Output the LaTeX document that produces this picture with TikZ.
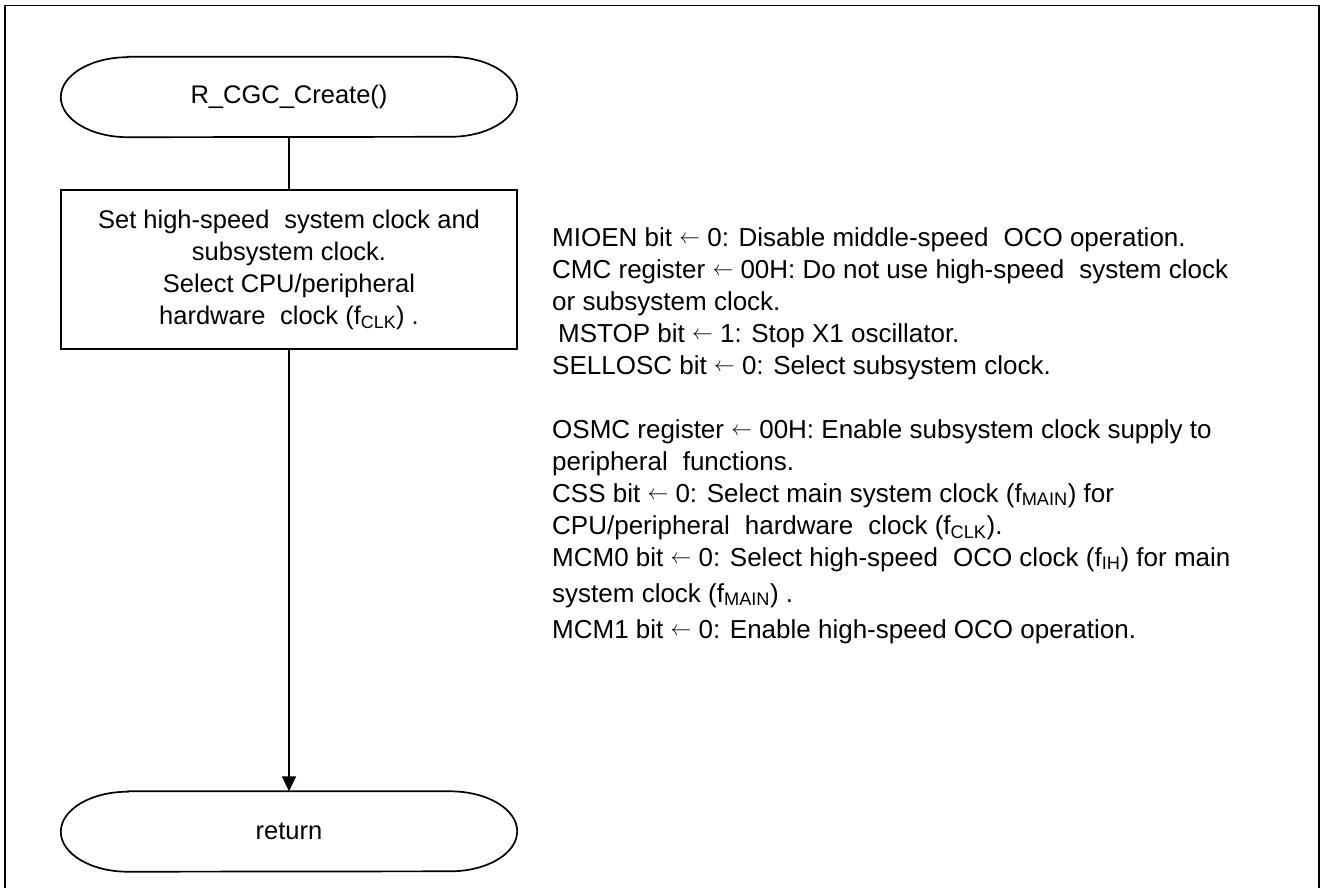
\documentclass[tikz,border=0pt]{standalone}
\usepackage{fontspec}
\setmainfont{Liberation Sans}
\newcommand{\larr}{{\fontsize{20}{20}\selectfont\raisebox{2.5pt}{$\leftarrow$}}}
\usetikzlibrary{arrows.meta}
\begin{document}
\begin{tikzpicture}[x=1pt,y=1pt,
  line/.style={line width=1.7pt},
  term/.style={minimum width=456pt,minimum height=80pt,inner sep=0pt,font=\fontsize{25.5}{32}\selectfont},
  procbox/.style={draw,line width=1.7pt,minimum width=456pt,minimum height=159pt,inner sep=0pt,align=center,font=\fontsize{25.5}{32}\selectfont},
  note/.style={anchor=base west,inner sep=0pt,font=\fontsize{26}{32}\selectfont},
  flow/.style={line width=1.7pt,-{Triangle[length=15pt,width=14pt]}}]
\useasboundingbox (0,0) rectangle (1325,-887);
\draw[line width=1.8pt] (5,-930) -- (5,-5.5) -- (1319,-5.5) -- (1319,-930);
% start terminal
\node[term] (start) at (289,-97) {R\_CGC\_Create()};
\draw[line] ([xshift=67pt]start.north west) -- ([xshift=-67pt]start.north east)
  arc[start angle=90,end angle=-90,x radius=67pt,y radius=40pt]
  -- ([xshift=67pt]start.south west)
  arc[start angle=270,end angle=90,x radius=67pt,y radius=40pt] -- cycle;
% process box
\node[procbox] (box) at (289,-269.5) {Set high-speed\hspace{0.3em} system clock and\\ subsystem clock.\\ Select CPU/peripheral\\ hardware\hspace{0.3em} clock (f\textsubscript{CLK}) .};
% return terminal
\node[term] (ret) at (289,-831.5) {return};
\draw[line] ([xshift=67pt]ret.north west) -- ([xshift=-67pt]ret.north east)
  arc[start angle=90,end angle=-90,x radius=67pt,y radius=40pt]
  -- ([xshift=67pt]ret.south west)
  arc[start angle=270,end angle=90,x radius=67pt,y radius=40pt] -- cycle;
% connectors
\draw[line] (start.south) -- (box.north);
\draw[flow] (box.south) -- (ret.north);
% notes
\node[note] (n1) at (552,-246) {MIOEN bit \larr\ 0: Disable middle-speed\hspace{0.3em} OCO operation.};
\node[note] (n2) at (552,-278) {CMC register \larr\ 00H: Do not use high-speed\hspace{0.3em} system clock};
\node[note] (n3) at (552,-310) {or subsystem clock.};
\node[note] (n4) at (558,-342) {MSTOP bit \larr\ 1: Stop X1 oscillator.};
\node[note] (n5) at (552,-374) {SELLOSC bit \larr\ 0: Select subsystem clock.};
\node[note] (n7) at (552,-438) {OSMC register \larr\ 00H: Enable subsystem clock supply to};
\node[note] (n8) at (552,-470) {peripheral\hspace{0.3em} functions.};
\node[note] (n9) at (552,-502) {CSS bit \larr\ 0: Select main system clock (f\textsubscript{MAIN}) for};
\node[note] (n10) at (552,-534) {CPU/peripheral\hspace{0.3em} hardware\hspace{0.3em} clock (f\textsubscript{CLK}).};
\node[note] (n11) at (552,-566) {MCM0 bit \larr\ 0: Select high-speed\hspace{0.3em} OCO clock (f\textsubscript{IH}) for main};
\node[note] (n12) at (552,-602) {system clock (f\textsubscript{MAIN}) .};
\node[note] (n13) at (552,-638) {MCM1 bit \larr\ 0: Enable high-speed OCO operation.};
\end{tikzpicture}
\end{document}
